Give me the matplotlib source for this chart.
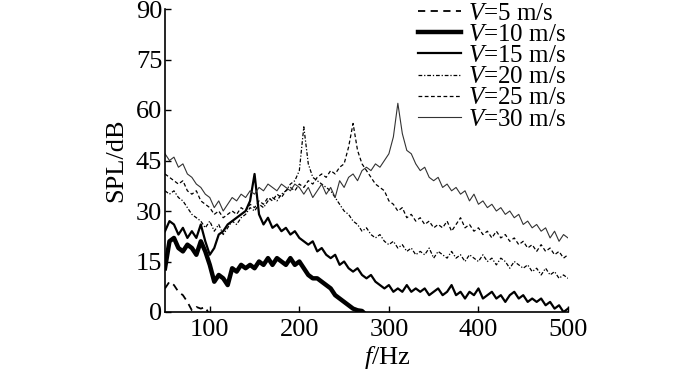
import numpy as np
import matplotlib
matplotlib.use("Agg")
import matplotlib.pyplot as plt

plt.rcParams['font.family'] = ['Liberation Serif', 'DejaVu Serif']
plt.rcParams['mathtext.fontset'] = 'custom'
plt.rcParams['mathtext.rm'] = 'Liberation Serif'
plt.rcParams['mathtext.it'] = 'Liberation Serif:italic'

# frequency grid (Hz), 5 Hz steps
freq = np.arange(50, 505, 5)

spl_v30 = [47, 45, 46, 43, 44, 41, 40, 38, 37, 35, 34, 31, 33, 30, 32, 34, 33, 35, 34, 36,
           35, 37, 36, 38, 37, 36, 38, 37, 36, 38, 37, 35, 37, 34, 36, 38, 35, 37, 34, 39,
           37, 40, 41, 39, 42, 43, 42, 44, 43, 45, 47, 52, 62, 53, 48, 47, 44, 42, 43, 40,
           39, 40, 37, 38, 36, 37, 35, 36, 33, 35, 32, 33, 31, 32, 30, 31, 29, 30, 28, 29,
           26, 27, 25, 26, 24, 25, 22, 24, 21, 23, 22]
spl_v25 = [41, 40, 39, 38, 39, 36, 35, 36, 33, 32, 31, 29, 30, 28, 29, 30, 29, 31, 30, 32,
           31, 33, 32, 34, 33, 35, 34, 36, 37, 36, 38, 37, 39, 38, 40, 41, 40, 42, 41, 43,
           44, 49, 56, 48, 44, 42, 40, 38, 37, 36, 33, 32, 30, 31, 28, 29, 27, 28, 26, 27,
           25, 26, 25, 27, 24, 26, 28, 25, 26, 24, 25, 23, 24, 22, 24, 22, 23, 21, 22, 20,
           21, 19, 20, 18, 20, 18, 19, 17, 18, 16, 17]
spl_v20 = [36, 35, 36, 34, 33, 31, 29, 28, 27, 25, 27, 24, 26, 23, 25, 27, 26, 28, 29, 31,
           30, 32, 31, 33, 34, 33, 35, 36, 38, 39, 42, 55, 44, 40, 39, 38, 37, 36, 34, 32,
           30, 29, 27, 26, 24, 25, 23, 22, 23, 21, 20, 21, 19, 20, 18, 19, 17, 18, 17, 19,
           16, 18, 17, 16, 18, 16, 17, 15, 17, 16, 15, 17, 15, 16, 14, 16, 15, 13, 15, 14,
           13, 14, 12, 13, 11, 13, 11, 12, 10, 11, 10]
spl_v15 = [24, 27, 26, 23, 25, 22, 24, 22, 26, 21, 17, 19, 23, 24, 26, 27, 28, 29, 30, 33,
           41, 29, 26, 28, 25, 26, 24, 25, 23, 24, 22, 21, 20, 21, 18, 19, 17, 16, 17, 14,
           15, 13, 12, 13, 11, 10, 11, 9, 8, 7, 8, 6, 7, 6, 8, 6, 7, 6, 7, 5,
           6, 7, 5, 6, 8, 5, 6, 4, 6, 5, 7, 4, 5, 6, 4, 5, 3, 5, 6, 4,
           5, 3, 4, 3, 4, 2, 3, 1, 2, 0, 1]
spl_v10 = [13, 21, 22, 19, 18, 20, 19, 17, 21, 18, 14, 9, 11, 10, 8, 13, 12, 14, 13, 14,
           13, 15, 14, 16, 14, 16, 15, 14, 16, 14, 15, 13, 11, 10, 10, 9, 8, 7, 5, 4,
           3, 2, 1, 0.5, 0.3, -1]
spl_v5 = [7, 9, 8, 6, 5, 3, 0.5, 1.5, 1, 1.5, -1]

labels = [r'$V$=5 m/s', r'$V$=10 m/s', r'$V$=15 m/s',
          r'$V$=20 m/s', r'$V$=25 m/s', r'$V$=30 m/s']

fig = plt.figure(figsize=(7, 3.71), dpi=100)
ax = fig.add_axes([165/700, 1-312/371, 403/700, 303/371])

l5, = ax.plot(freq[:len(spl_v5)], spl_v5, color='black', lw=1.3, ls=(0, (4, 3)))
l10, = ax.plot(freq[:len(spl_v10)], spl_v10, color='black', lw=3.2)
l15, = ax.plot(freq, spl_v15, color='black', lw=1.6)
l20, = ax.plot(freq, spl_v20, color='black', lw=0.9, ls=(0, (3, 1.5, 1, 1.5)))
l25, = ax.plot(freq, spl_v25, color='black', lw=0.9, ls=(0, (3, 2)))
l30, = ax.plot(freq, spl_v30, color='#333333', lw=0.8)

ax.set_xlim(50, 500)
ax.set_ylim(0, 90)
ax.set_xticks([100, 200, 300, 400, 500])
ax.set_yticks([0, 15, 30, 45, 60, 75, 90])
ax.spines['top'].set_visible(False)
ax.spines['right'].set_visible(False)
ax.spines['left'].set_linewidth(1.2)
ax.spines['bottom'].set_linewidth(1.2)
ax.tick_params(direction='in', length=4, width=1, labelsize=19)
ax.tick_params(axis='y', pad=2)
ax.tick_params(axis='x', pad=5)

ax.set_ylabel('SPL/dB', fontsize=19, labelpad=6)
ax.set_xlabel(r'$f$/Hz', fontsize=19)
ax.xaxis.set_label_coords(0.553, -0.105)

fig.legend([l5, l10, l15, l20, l25, l30], labels, loc='upper left',
           bbox_to_anchor=(418/700, 1-2/371), frameon=False, fontsize=18,
           borderpad=0, borderaxespad=0, handlelength=1.7, handletextpad=0.3,
           labelspacing=-0.05)

fig.savefig('out.png', dpi=100)
